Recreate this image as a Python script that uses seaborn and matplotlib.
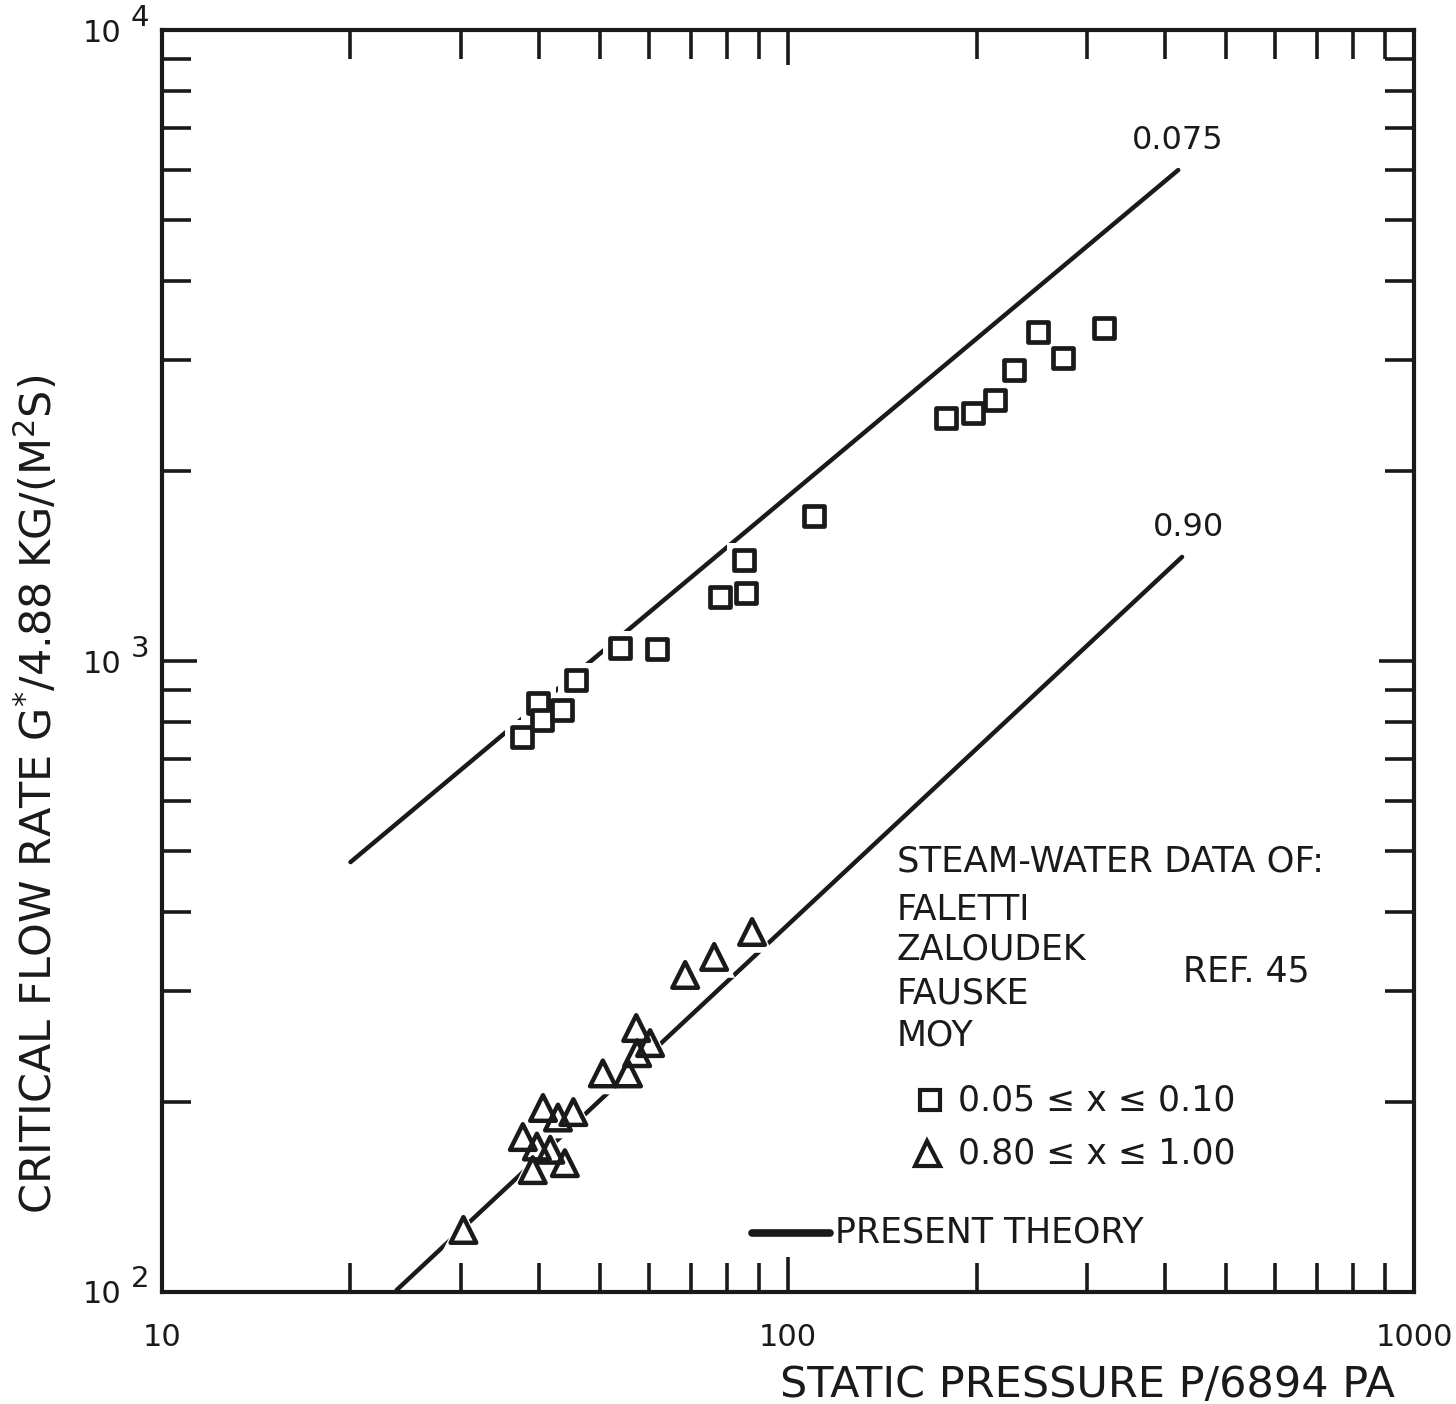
import matplotlib
matplotlib.use("Agg")
import matplotlib.pyplot as plt
import seaborn as sns
import pandas as pd

# ------------------------------------------------------------
# Data
# ------------------------------------------------------------
sq_p = [37.6, 39.9, 40.5, 43.5, 45.8, 53.9, 61.8, 77.8, 85.7, 85.1,
        110, 178.8, 197.5, 214, 229.6, 250.8, 275, 319.8]
sq_g = [758, 858, 806, 836, 933, 1049, 1046, 1262, 1282, 1446,
        1698, 2427, 2472, 2593, 2892, 3322, 3021, 3370]

tri_p = [30.3, 37.7, 39.1, 39.7, 40.6, 41.7, 42.9, 44.0, 45.4, 50.6,
         55.5, 57.2, 57.4, 60.2, 68.5, 76.2, 87.6]
tri_g = [125.4, 176, 156, 170, 195.7, 168, 189, 160, 192.8, 222,
         222, 262, 239, 248, 318, 339.6, 372]

# theory lines (end points)
theory_low_p = [20.0, 420]
theory_low_g = [480, 6000]
theory_high_p = [23.7, 426]
theory_high_g = [100.7, 1462]

y_exponents = [2, 3, 4]
x_ticks = [10, 100, 1000]

squares = pd.DataFrame({"p": sq_p, "g": sq_g})
triangles = pd.DataFrame({"p": tri_p, "g": tri_g})
line_a = pd.DataFrame({"p": theory_low_p, "g": theory_low_g})
line_b = pd.DataFrame({"p": theory_high_p, "g": theory_high_g})

# ------------------------------------------------------------
# Style
# ------------------------------------------------------------
sns.set_style("ticks")
plt.rcParams["font.family"] = ["DejaVu Sans"]

fig = plt.figure(figsize=(14.56, 14.04), dpi=100)
ax = fig.add_axes([0.1113, 0.0798, 0.8599, 0.8988])

ink = "#1a1a1a"

# ------------------------------------------------------------
# Theory lines
# ------------------------------------------------------------
sns.lineplot(data=line_a, x="p", y="g", ax=ax, color=ink, lw=3.2, zorder=2)
sns.lineplot(data=line_b, x="p", y="g", ax=ax, color=ink, lw=3.2, zorder=2)

# white halos to break the line behind the symbols
sns.scatterplot(data=squares, x="p", y="g", ax=ax, marker="s", s=620,
                color="white", edgecolor="none", zorder=3, legend=False)
sns.scatterplot(data=triangles, x="p", y="g", ax=ax, marker="^", s=900,
                color="white", edgecolor="none", zorder=3, legend=False)

# data symbols
sns.scatterplot(data=squares, x="p", y="g", ax=ax, marker="s", s=200,
                facecolor="white", edgecolor=ink, linewidth=3.4, zorder=4,
                legend=False)
sns.scatterplot(data=triangles, x="p", y="g", ax=ax, marker="^", s=340,
                facecolor="none", edgecolor=ink, linewidth=3.2, zorder=5,
                legend=False)

# ------------------------------------------------------------
# Axes
# ------------------------------------------------------------
ax.set_xscale("log")
ax.set_yscale("log")
ax.set_xlim(10, 1000)
ax.set_ylim(100, 10000)

ax.set_xticks(x_ticks)
ax.set_xticklabels([str(v) for v in x_ticks])
ax.set_yticks([10 ** e for e in y_exponents])
ax.set_yticklabels(["10"] * len(y_exponents))

for e in y_exponents:
    ax.annotate(str(e), xy=(0, 10 ** e), xycoords=("axes fraction", "data"),
                xytext=(-16, 9), textcoords="offset points",
                ha="center", va="center", fontsize=21, color=ink)

for s in ax.spines.values():
    s.set_linewidth(3)
    s.set_color(ink)
    s.set_visible(True)

ax.tick_params(which="both", direction="in", top=True, right=True,
               color=ink, labelsize=22, labelcolor=ink)
ax.tick_params(which="major", length=25, width=2.6)
ax.tick_params(which="minor", length=21, width=2.6)
ax.tick_params(axis="x", which="major", pad=22)
ax.tick_params(axis="y", which="major", pad=29)

ax.set_xlabel("")
ax.set_ylabel("CRITICAL FLOW RATE G$^{*}$/4.88 KG/(M$^{2}$S)", fontsize=31,
              color=ink)
ax.yaxis.set_label_coords(-0.081, 0.394)
ax.text(0.985, -0.074, "STATIC PRESSURE P/6894 PA", transform=ax.transAxes,
        ha="right", va="center", fontsize=31, color=ink)

# ------------------------------------------------------------
# Annotations
# ------------------------------------------------------------
ax.text(0.8115, 0.9128, "0.075", transform=ax.transAxes, ha="center",
        va="center", fontsize=23, color=ink)
ax.text(0.8195, 0.606, "0.90", transform=ax.transAxes, ha="center",
        va="center", fontsize=23, color=ink)

lx = 0.587
ax.text(lx, 0.341, "STEAM-WATER DATA OF:", transform=ax.transAxes,
        va="center", fontsize=25.5, color=ink)
for yy, name in zip([0.3027, 0.271, 0.2369, 0.2036],
                    ["FALETTI", "ZALOUDEK", "FAUSKE", "MOY"]):
    ax.text(lx, yy, name, transform=ax.transAxes, va="center",
            fontsize=25, color=ink)
ax.text(0.8155, 0.2536, "REF. 45", transform=ax.transAxes, va="center",
        fontsize=25, color=ink)

ax.plot([0.6134], [0.1521], transform=ax.transAxes, marker="s", ms=14,
        mfc="white", mec=ink, mew=3)
ax.text(0.6358, 0.1521, "0.05 ≤ x ≤ 0.10", transform=ax.transAxes,
        va="center", fontsize=25, color=ink)
ax.plot([0.611], [0.110], transform=ax.transAxes, marker="^", ms=18,
        mfc="none", mec=ink, mew=3)
ax.text(0.6358, 0.110, "0.80 ≤ x ≤ 1.00", transform=ax.transAxes,
        va="center", fontsize=25, color=ink)

ax.plot([0.4712, 0.5335], [0.0468, 0.0468], transform=ax.transAxes,
        color=ink, lw=5.5, solid_capstyle="round")
ax.text(0.5375, 0.0468, "PRESENT THEORY", transform=ax.transAxes,
        va="center", fontsize=25, color=ink)

fig.savefig("out.png", dpi=100, facecolor="white")
